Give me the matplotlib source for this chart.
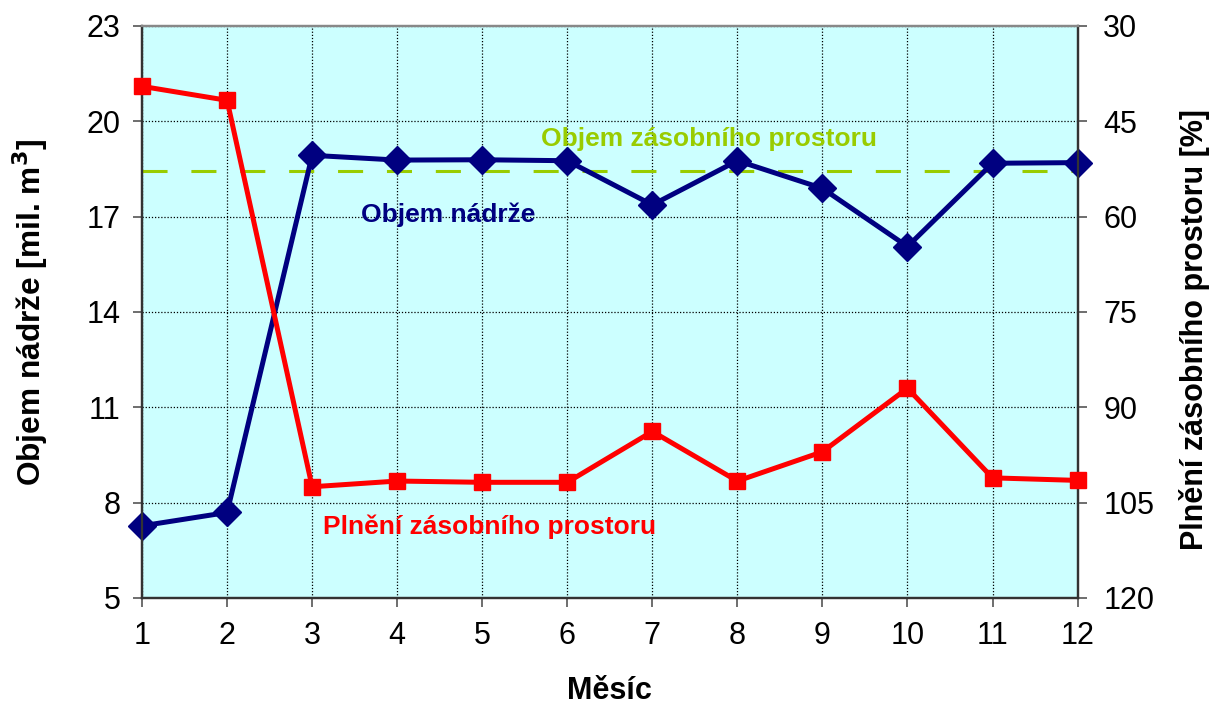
import matplotlib
matplotlib.use("Agg")
import matplotlib.pyplot as plt
from matplotlib.ticker import FixedLocator

plt.rcParams['font.family'] = ['Liberation Sans', 'DejaVu Sans']

# Monthly data
months = [1, 2, 3, 4, 5, 6, 7, 8, 9, 10, 11, 12]
volume = [7.27, 7.69, 18.93, 18.78, 18.79, 18.76, 17.37, 18.76, 17.89, 16.06, 18.68, 18.70]
filling_pct = [39.5, 41.7, 102.5, 101.6, 101.8, 101.8, 93.8, 101.6, 97.0, 87.0, 101.1, 101.5]
storage_volume = 18.45

left_ticks = [5, 8, 11, 14, 17, 20, 23]
right_ticks = [30, 45, 60, 75, 90, 105, 120]

NAVY = '#000080'
RED = '#FF0000'
GREEN = '#99CC00'

fig = plt.figure(figsize=(12.11, 7.06), dpi=100)
ax = fig.add_axes([0.1173, 0.1530, 0.7725, 0.8102])
ax.set_facecolor('#CCFFFF')

ax.set_xlim(1, 12)
ax.set_ylim(5, 23)
ax.xaxis.set_major_locator(FixedLocator(months))
ax.yaxis.set_major_locator(FixedLocator(left_ticks))
ax.grid(True, color='black', linestyle=(0, (1, 1.5)), linewidth=0.9)
ax.set_axisbelow(True)

ax2 = ax.twinx()
ax2.set_ylim(120, 30)
ax2.yaxis.set_major_locator(FixedLocator(right_ticks))

# Storage volume reference line
ax.axhline(storage_volume, color=GREEN, linestyle=(0, (8.2, 7.8)), linewidth=2.2, zorder=2)

# Reservoir volume
ax.plot(months, volume, color=NAVY, linewidth=3.6, marker='D', markersize=14.5,
        markeredgecolor=NAVY, zorder=4, clip_on=False)

# Storage filling (%), on inverted right axis
ax2.plot(months, filling_pct, color=RED, linewidth=3.6, marker='s', markersize=11,
         markeredgecolor=RED, zorder=5, clip_on=False)

for a in (ax, ax2):
    for side in ('left', 'right', 'bottom'):
        a.spines[side].set_color('#333333')
        a.spines[side].set_linewidth(1.6)
    a.spines['top'].set_color('#888888')
    a.spines['top'].set_linewidth(1.6)

ax.tick_params(axis='both', direction='out', length=6.5, width=1.2, color='#555555',
               labelsize=22, pad=9)
ax.tick_params(axis='x', pad=10)
ax2.tick_params(axis='y', direction='out', length=6.5, width=1.2, color='#555555',
                labelsize=22, pad=12)

ax.set_xlabel('Měsíc', fontsize=22, fontweight='bold', labelpad=18)
ax.set_ylabel('Objem nádrže [mil. m$^\\mathbf{3}$]', fontsize=22.8, fontweight='bold')
ax.yaxis.set_label_coords(-0.098, 0.5)
ax2.set_ylabel('Plnění zásobního prostoru [%]', fontsize=22, fontweight='bold',
               rotation=90)
ax2.yaxis.set_label_coords(1.1085, 0.470)

ax.text(7.67, 19.44, 'Objem zásobního prostoru', color=GREEN, fontsize=19,
        fontweight='bold', ha='center', va='center', zorder=6)
ax.text(4.60, 17.05, 'Objem nádrže', color=NAVY, fontsize=19,
        fontweight='bold', ha='center', va='center', zorder=6)
ax.text(5.09, 7.24, 'Plnění zásobního prostoru', color=RED, fontsize=19,
        fontweight='bold', ha='center', va='center', zorder=6)

fig.savefig('out.png', dpi=100)
